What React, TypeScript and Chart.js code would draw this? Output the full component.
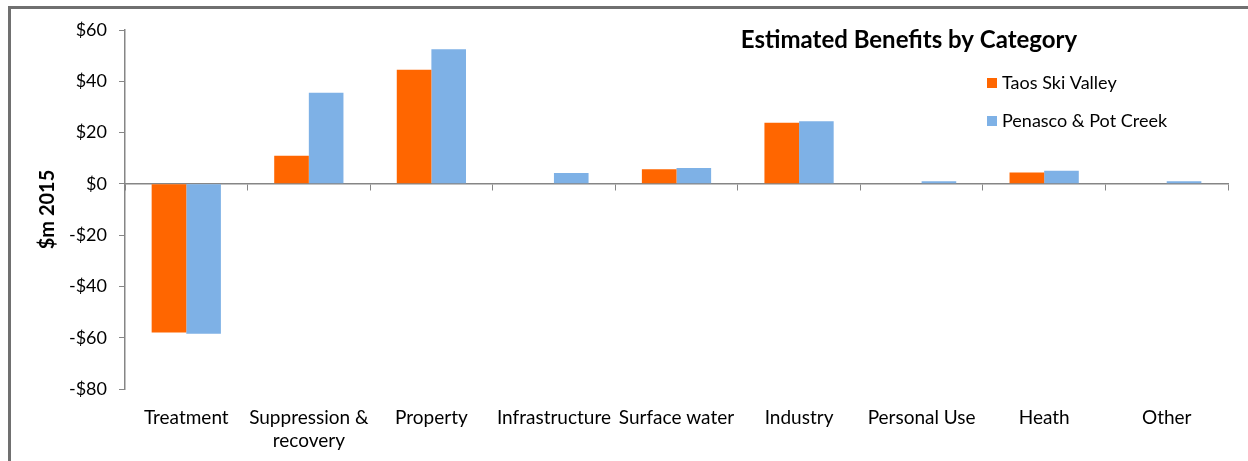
import React, { useEffect, useRef } from 'react';
import { Chart, registerables } from 'chart.js';

Chart.register(...registerables);

const categories: (string | string[])[] = [
  'Treatment',
  ['Suppression &', 'recovery'],
  'Property',
  'Infrastructure',
  'Surface water',
  'Industry',
  'Personal Use',
  'Heath',
  'Other',
];
const taosSkiValley = [-58, 11, 44.5, 0, 5.7, 23.8, 0, 4.4, 0];
const penascoPotCreek = [-58.5, 35.5, 52.5, 4.2, 6.2, 24.4, 1.0, 5.1, 1.0];
const seriesNames = ['Taos Ski Valley', 'Penasco & Pot Creek'];
const seriesColors = ['#FF6600', '#7EB1E6'];
const yMin = -80;
const yMax = 60;
const yStep = 20;
const chartTitle = 'Estimated Benefits by Category';
const yAxisTitle = '$m 2015';

const FONT = 'Lato, "DejaVu Sans", sans-serif';
const AXIS = '#868686';

const decorPlugin = {
  id: 'decor',
  afterDraw(chart: any) {
    const ctx = chart.ctx as CanvasRenderingContext2D;
    ctx.save();
    // frame
    ctx.strokeStyle = '#707070';
    ctx.lineWidth = 3;
    ctx.beginPath();
    ctx.moveTo(9.5, chart.height);
    ctx.lineTo(9.5, 7.5);
    ctx.lineTo(chart.width, 7.5);
    ctx.stroke();
    // title
    ctx.fillStyle = '#000';
    ctx.font = `bold 24px ${FONT}`;
    ctx.textAlign = 'center';
    ctx.textBaseline = 'middle';
    ctx.fillText(chartTitle, 909, 40);
    // legend
    ctx.font = `18px ${FONT}`;
    ctx.textAlign = 'left';
    chart.data.datasets.forEach((ds: any, i: number) => {
      const cy = 83 + i * 38;
      ctx.fillStyle = ds.backgroundColor;
      ctx.fillRect(987, cy - 5, 10, 10);
      ctx.fillStyle = '#000';
      ctx.fillText(ds.label, 1002, cy);
    });
    ctx.restore();
  },
};

export default function App() {
  const canvasRef = useRef<HTMLCanvasElement | null>(null);

  useEffect(() => {
    document.body.style.margin = '0';
    const canvas = canvasRef.current;
    if (!canvas) return;
    const chart = new Chart(canvas, {
      type: 'bar',
      data: {
        labels: categories as any,
        datasets: [
          {
            label: seriesNames[0],
            data: taosSkiValley,
            backgroundColor: seriesColors[0],
            borderWidth: 0,
            categoryPercentage: 0.565,
            barPercentage: 1,
          },
          {
            label: seriesNames[1],
            data: penascoPotCreek,
            backgroundColor: seriesColors[1],
            borderWidth: 0,
            categoryPercentage: 0.565,
            barPercentage: 1,
          },
        ],
      },
      options: {
        responsive: false,
        animation: false,
        layout: { padding: { top: 30, right: 20, left: 0, bottom: 0 } },
        plugins: {
          legend: { display: false },
          title: { display: false },
          tooltip: { enabled: false },
        },
        scales: {
          x: {
            type: 'category',
            position: 'bottom',
            grid: { display: false },
            border: { display: false },
            ticks: {
              color: '#000',
              font: { family: FONT, size: 19, lineHeight: 1.22 },
              padding: 9,
              maxRotation: 0,
              autoSkip: false,
            },
            afterFit: (s: any) => {
              s.height = 72;
            },
          },
          xz: {
            type: 'category',
            position: { y: 0 } as any,
            offset: true,
            grid: {
              display: true,
              offset: true,
              drawOnChartArea: false,
              drawTicks: true,
              tickLength: 6,
              color: AXIS,
              lineWidth: 1,
            },
            border: { display: true, color: AXIS, width: 1.5 },
            ticks: { display: false },
            afterFit: (s: any) => {
              s.height = 0;
            },
          } as any,
          y: {
            min: yMin,
            max: yMax,
            ticks: {
              stepSize: yStep,
              color: '#000',
              font: { family: FONT, size: 18 },
              padding: 12,
              callback: (v: any) => (Number(v) < 0 ? '-$' + -Number(v) : '$' + v),
            },
            grid: {
              drawOnChartArea: false,
              drawTicks: true,
              tickLength: 6,
              color: AXIS,
            },
            border: { display: true, color: AXIS, width: 1.5 },
            title: {
              display: true,
              text: yAxisTitle,
              color: '#000',
              font: { family: FONT, size: 20, weight: 'bold' },
              padding: { top: 36, bottom: 0 },
            },
            afterFit: (s: any) => {
              s.width = 125;
            },
          },
        },
      },
      plugins: [decorPlugin],
    });
    return () => chart.destroy();
  }, []);

  return (
    <div style={{ width: 1248, height: 461, background: '#fff' }}>
      <canvas ref={canvasRef} width={1248} height={461} style={{ display: 'block' }} />
    </div>
  );
}
